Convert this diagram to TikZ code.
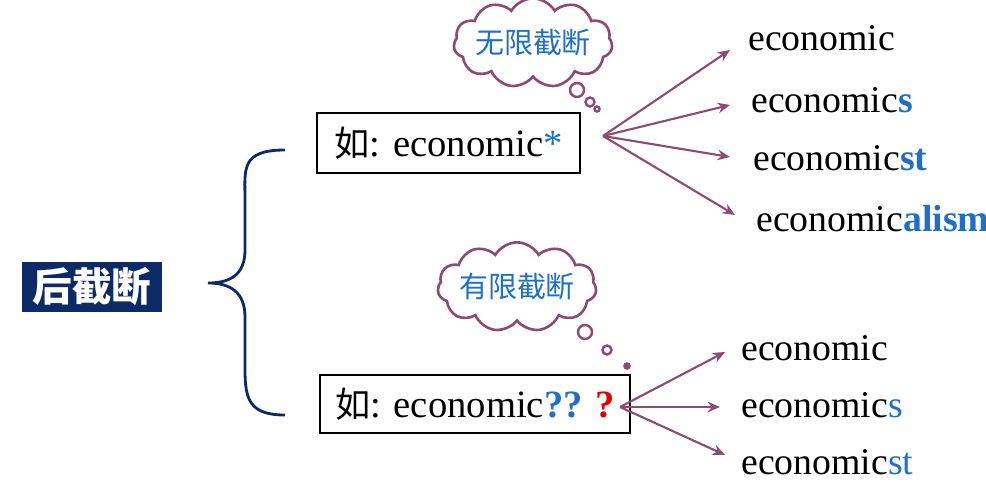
\documentclass[tikz,border=0pt]{standalone}
\usepackage{fontspec}
\setmainfont{Liberation Serif}
\newfontfamily\cjk{Noto Sans CJK SC}
\usetikzlibrary{shapes.symbols,arrows.meta}
\definecolor{navy}{HTML}{0B2A66}
\definecolor{plum}{HTML}{8E4B72}
\definecolor{bl}{HTML}{1F6FC5}
\definecolor{rd}{HTML}{E00000}
\tikzset{
 word/.style={anchor=west,inner sep=0pt,font=\fontsize{21.5}{24}\selectfont},
 arr/.style={plum,line width=1.2pt,-{Stealth[length=7pt,width=6pt]}},
 cl/.style={cloud,cloud puffs=11,cloud puff arc=120,aspect=2.3,draw=plum,line width=1.5pt,fill=white,font=\cjk\fontsize{16.5}{18}\selectfont,text=bl,inner sep=-2pt},
 bub/.style={circle,draw=plum,line width=1.4pt,inner sep=0pt},
 ibox/.style={draw,line width=1.3pt,font=\fontsize{22}{24}\selectfont,inner sep=0pt}
}
\begin{document}
\begin{tikzpicture}[x=0.02cm,y=-0.02cm]
\useasboundingbox (0,0) rectangle (986,492);
\node[fill=navy,text=white,font=\cjk\bfseries\fontsize{22.5}{26}\selectfont,minimum width=140*0.02cm,minimum height=50*0.02cm,inner sep=0pt] (t) at (92,287) {后截断};
\draw[navy,line width=1.6pt] (285,150) .. controls (240,150) and (245,170) .. (245,200) -- (245,250) .. controls (245,275) and (230,283) .. (208,283) coordinate (m) .. controls (230,283) and (245,292) .. (245,317) -- (245,370) .. controls (245,400) and (250,415) .. (285,415);
\node[ibox,minimum width=263*0.02cm,minimum height=60*0.02cm] (b1) at (448.5,143) {{\cjk\fontsize{20}{22}\selectfont 如}: economic\textcolor{bl}{*}};
\node[ibox,minimum width=310*0.02cm,minimum height=58*0.02cm] (b2) at (475,404) {{\cjk\fontsize{20}{22}\selectfont 如}: economic\textcolor{bl}{\textbf{??}} \textcolor{rd}{\textbf{?}}};
\coordinate (s1) at (603,136);
\coordinate (s2) at (620,407);
\node[word] (w1) at (748,38) {economic};
\node[word] (w2) at (751,100) {economic\textcolor{bl}{\textbf{s}}};
\node[word] (w3) at (753,158) {economic\textcolor{bl}{\textbf{st}}};
\node[word] (w4) at (756,219) {economic\textcolor{bl}{\textbf{alism}}};
\node[word] (v1) at (741,348) {economic};
\node[word] (v2) at (741,405) {economic\textcolor{bl}{s}};
\node[word] (v3) at (741,462) {economic\textcolor{bl}{st}};
\coordinate (e1) at (730,50); \coordinate (e2) at (730,105);
\coordinate (e3) at (730,157); \coordinate (e4) at (735,215);
\foreach \e in {e1,e2,e3,e4} \draw[arr] (s1) -- (\e);
\coordinate (f1) at (725,352); \coordinate (f2) at (720,407); \coordinate (f3) at (725,455);
\foreach \e in {f1,f2,f3} \draw[arr] (s2) -- (\e);
\node[cl,minimum width=155*0.02cm,minimum height=70*0.02cm] (c1) at (533,43) {无限截断};
\node[bub,minimum size=14*0.02cm] (c1a) at (577,90) {};
\node[bub,minimum size=9*0.02cm] (c1b) at (590,102) {};
\node[bub,minimum size=5*0.02cm] (c1c) at (597,109) {};
\node[cl,minimum width=155*0.02cm,minimum height=64*0.02cm] (c2) at (517,287) {有限截断};
\node[bub,minimum size=14*0.02cm] (c2a) at (585,332) {};
\node[bub,minimum size=9*0.02cm] (c2b) at (607,350) {};
\node[bub,minimum size=5*0.02cm,fill=plum] (c2c) at (627,366) {};
\end{tikzpicture}
\end{document}
